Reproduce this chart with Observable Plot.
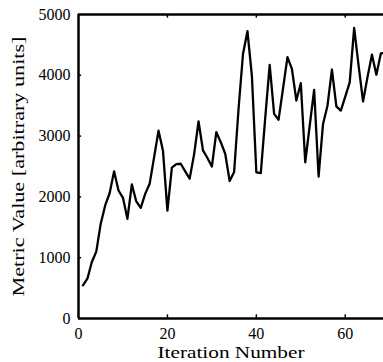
<!DOCTYPE html>
<html>
<head>
<meta charset="utf-8">
<script src="https://cdn.jsdelivr.net/npm/d3@7"></script>
<script src="https://cdn.jsdelivr.net/npm/@observablehq/plot@0.6"></script>
<style>
  html, body { margin: 0; padding: 0; background: #fff; }
  svg { display: block; }
</style>
</head>
<body>
<div id="chart"></div>
<script>
const iterations = d3.range(1, 70);
const values = [
  545, 655, 930, 1100, 1560, 1860, 2060, 2420, 2105, 1985,
  1640, 2205, 1925, 1820, 2050, 2215, 2650, 3090, 2760, 1775,
  2480, 2540, 2545, 2420, 2300, 2700, 3240, 2765, 2640, 2500,
  3065, 2900, 2710, 2260, 2410, 3450, 4350, 4725, 3990, 2405,
  2390, 3300, 4170, 3365, 3270, 3780, 4300, 4105, 3585, 3870,
  2570, 3170, 3760, 2335, 3200, 3500, 4095, 3490, 3420, 3650,
  3885, 4780, 4160, 3570, 3970, 4340, 4010, 4360, 4370
];
const xTicks = [0, 20, 40, 60];
const yTicks = [0, 1000, 2000, 3000, 4000, 5000];
const xLabel = "Iteration Number";
const yLabel = "Metric Value [arbitrary units]";

const data = iterations.map((x, i) => ({x, y: values[i]}));
const font = "'Liberation Serif', 'DejaVu Serif', serif";

const chart = Plot.plot({
  width: 383,
  height: 362,
  marginLeft: 78,
  marginRight: 0,
  marginTop: 14,
  marginBottom: 44,
  style: {fontFamily: font, fontSize: "16px", color: "#000", background: "#fff"},
  x: {domain: [0, 68.6]},
  y: {domain: [0, 5000]},
  marks: [
    Plot.line(data, {x: "x", y: "y", stroke: "#000", strokeWidth: 2.3, clip: true}),
    // inward ticks
    Plot.ruleX(xTicks.slice(1), {y1: 0, y2: 60, stroke: "#000", strokeWidth: 1.5}),
    Plot.ruleX(xTicks.slice(1), {y1: 5000, y2: 4940, stroke: "#000", strokeWidth: 1.5}),
    Plot.ruleY(yTicks.slice(1, -1), {x1: 0, x2: 0.7, stroke: "#000", strokeWidth: 1.5}),
    // frame (left, bottom, top)
    Plot.ruleX([0], {stroke: "#000", strokeWidth: 2.5}),
    Plot.ruleY([0], {stroke: "#000", strokeWidth: 2.5}),
    Plot.ruleY([5000], {stroke: "#000", strokeWidth: 2.5}),
    Plot.axisX({ticks: xTicks, tickSize: 0, tickPadding: 9, tickFormat: d => String(d),
      label: xLabel, labelAnchor: "center", labelArrow: "none", labelOffset: 39, fontSize: 16}),
    Plot.axisY({ticks: yTicks, tickSize: 0, tickPadding: 8, tickFormat: d => String(d),
      label: yLabel, labelAnchor: "center", labelArrow: "none", labelOffset: 66, fontSize: 16})
  ]
});
d3.select(chart).selectAll("text").each(function () {
  const t = this.textContent;
  if (t === xLabel) d3.select(this).attr("textLength", 147).attr("lengthAdjust", "spacingAndGlyphs").style("font-size", "16px");
  if (t === yLabel) d3.select(this).attr("textLength", 260).attr("lengthAdjust", "spacingAndGlyphs").style("font-size", "16px");
});
document.getElementById("chart").appendChild(chart);
</script>
</body>
</html>
